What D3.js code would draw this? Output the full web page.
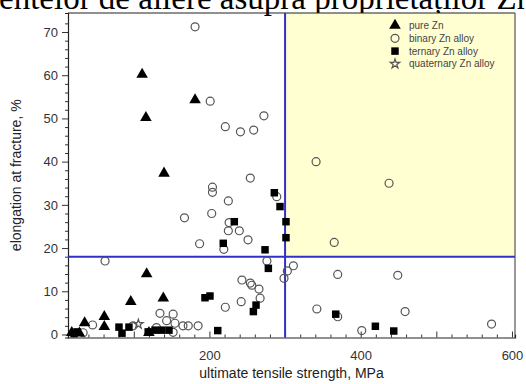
<!DOCTYPE html>
<html><head><meta charset="utf-8">
<script src="https://cdn.jsdelivr.net/npm/d3@7"></script>
<style>body{margin:0;background:#fff}svg{display:block}</style>
</head><body>
<svg id="c" width="526" height="384"></svg>
<script>
const titleText = "entelor de aliere asupra proprietaților Zn";
const xTitle = "ultimate tensile strength, MPa";
const yTitle = "elongation at fracture, %";
const legendLabels = ["pure Zn", "binary Zn alloy", "ternary Zn alloy", "quaternary Zn alloy"];
const xTickLabels = [200, 400, 600];
const yTickLabels = [0, 10, 20, 30, 40, 50, 60, 70];
const limitUTS = 300, limitElong = 18;

const pureX = [111, 116, 181, 140, 117, 139, 96, 61, 61, 35, 18, 28, 120];
const pureY = [60.2, 50.2, 54.3, 37.3, 14.0, 8.4, 7.6, 4.1, 1.8, 2.7, 0.4, 0.3, 0.4];

const binaryX = [181, 201, 272, 221, 241, 258.5, 341, 254, 204, 204, 225, 289, 167, 203, 226, 225, 239.5, 251, 187, 219, 276, 311, 303, 298.6, 243, 254, 256, 265.5, 267, 242, 221, 342, 185, 172, 165, 437.5, 365, 369.6, 449, 369.6, 458.7, 401.4, 573, 62, 45.5, 33, 99, 134.6, 152, 143.4, 154.4, 130, 152];
const binaryY = [71.2, 54.0, 50.6, 48.1, 46.9, 47.3, 40.0, 36.2, 34.1, 32.9, 30.9, 31.9, 27.0, 28.0, 25.9, 24.0, 24.0, 21.9, 21.0, 19.7, 17.0, 15.9, 14.7, 13.0, 12.6, 11.9, 11.4, 10.5, 8.4, 7.6, 6.3, 5.9, 2.0, 2.0, 2.0, 35.0, 21.3, 13.9, 13.7, 4.1, 5.3, 0.9, 2.4, 17.0, 2.2, 0.4, 2.0, 4.9, 4.7, 3.2, 2.6, 1.6, 0.5];

const ternaryX = [285.8, 293.3, 301.2, 232.9, 301.2, 218.3, 273.5, 277.9, 200.7, 194.1, 261.6, 258.1, 211, 367, 419.4, 443.7, 21, 25, 80.4, 93.6, 84.4, 119, 128, 137, 146.5];
const ternaryY = [32.8, 29.6, 26.1, 26.1, 22.4, 21.1, 19.6, 15.3, 8.9, 8.5, 6.8, 5.3, 0.9, 4.7, 1.9, 0.8, 0.2, 0.6, 1.7, 1.7, 0.3, 0.6, 1.0, 1.0, 1.0];

const quatX = [106];
const quatY = [2.4];

const svg = d3.select("#c");
const L = 68, R = 515, T = 13, B = 337.5;
const x = d3.scaleLinear().domain([13, 604]).range([L, R]);
const y = d3.scaleLinear().domain([-0.7, 74.4]).range([B, T]);

// title (clipped at top, as in the source)
svg.append("text").attr("x", -1).attr("y", 8.5)
  .attr("font-family", "Liberation Serif, Times New Roman, serif")
  .attr("font-size", 33).attr("fill", "#000").text(titleText);

// yellow region
svg.append("rect").attr("x", x(limitUTS)).attr("y", T)
  .attr("width", R - x(limitUTS)).attr("height", y(limitElong) - T)
  .attr("fill", "#ffffd2");

// frame top/right
svg.append("line").attr("x1", L).attr("x2", R).attr("y1", T).attr("y2", T).attr("stroke", "#222").attr("stroke-width", 1.2);
svg.append("line").attr("x1", R).attr("x2", R).attr("y1", T).attr("y2", B).attr("stroke", "#555").attr("stroke-width", 1.2);

// axes
const xAxisG = svg.append("g").attr("transform", `translate(0,${B})`);
xAxisG.call(d3.axisBottom(x).tickValues(d3.range(20, 601, 20)).tickSize(-3).tickFormat(""));
xAxisG.call(g => g.selectAll(".tick line").filter(d => d % 100 === 0).attr("y2", -6));
const xLab = svg.append("g").attr("transform", `translate(0,${B})`);
xLab.call(d3.axisBottom(x).tickValues(xTickLabels).tickSize(0).tickPadding(13));
xLab.select(".domain").remove();

const yAxisG = svg.append("g").attr("transform", `translate(${L},0)`);
yAxisG.call(d3.axisLeft(y).tickValues(d3.range(0, 73, 2)).tickSize(3).tickFormat(""));
yAxisG.call(g => g.selectAll(".tick line").filter(d => d % 10 === 0).attr("x2", -6));
const yLab = svg.append("g").attr("transform", `translate(${L},0)`);
yLab.call(d3.axisLeft(y).tickValues(yTickLabels).tickSize(0).tickPadding(10));
yLab.select(".domain").remove();

svg.selectAll(".domain").attr("stroke", "#222").attr("stroke-width", 1.2);
svg.selectAll(".tick line").attr("stroke", "#333");
svg.selectAll(".tick text").attr("font-family", "Liberation Sans, Arial, sans-serif").attr("font-size", 13).attr("fill", "#333");

// limit lines
svg.append("line").attr("x1", x(limitUTS)).attr("x2", x(limitUTS)).attr("y1", T).attr("y2", B).attr("stroke", "#3030c8").attr("stroke-width", 2);
svg.append("line").attr("x1", L).attr("x2", R).attr("y1", y(limitElong)).attr("y2", y(limitElong)).attr("stroke", "#3030c8").attr("stroke-width", 2);

// titles
svg.append("text").attr("x", (L + R) / 2).attr("y", 378).attr("text-anchor", "middle")
  .attr("font-family", "Liberation Sans, Arial, sans-serif").attr("font-size", 14).attr("fill", "#222").text(xTitle);
svg.append("text").attr("transform", `translate(21,${(T + B) / 2}) rotate(-90)`).attr("text-anchor", "middle")
  .attr("font-family", "Liberation Sans, Arial, sans-serif").attr("font-size", 14).attr("fill", "#222").text(yTitle);

// points
const tri = d3.symbol().type(d3.symbolTriangle).size(58);
const sq = d3.symbol().type(d3.symbolSquare).size(56);
const star = d3.symbol().type(d3.symbolStar).size(28);
const circ = d3.symbol().type(d3.symbolCircle).size(50);

function draw(xs, ys, gen, fill, stroke) {
  svg.append("g").selectAll("path").data(xs.map((v, i) => [v, ys[i]])).join("path")
    .attr("d", gen).attr("transform", d => `translate(${x(d[0])},${y(d[1])})`)
    .attr("fill", fill).attr("stroke", stroke).attr("stroke-width", stroke === "none" ? 0 : 1.2);
}
draw(binaryX, binaryY, circ, "none", "#555");
draw(pureX, pureY, tri, "#000", "none");
draw(ternaryX, ternaryY, sq, "#000", "none");
draw(quatX, quatY, star, "none", "#555");

// legend
const legGens = [[tri, "#000", "none"], [circ, "none", "#555"], [sq, "#000", "none"], [star, "none", "#555"]];
legendLabels.forEach((lab, i) => {
  const yy = 25.5 + i * 12.8;
  const g = legGens[i];
  svg.append("path").attr("d", g[0]).attr("transform", `translate(395,${yy})`)
    .attr("fill", g[1]).attr("stroke", g[2]).attr("stroke-width", g[2] === "none" ? 0 : 1.2);
  svg.append("text").attr("x", 409).attr("y", yy + 3.5)
    .attr("font-family", "Liberation Sans, Arial, sans-serif").attr("font-size", 10).attr("fill", "#444").text(lab);
});
</script>
</body></html>
